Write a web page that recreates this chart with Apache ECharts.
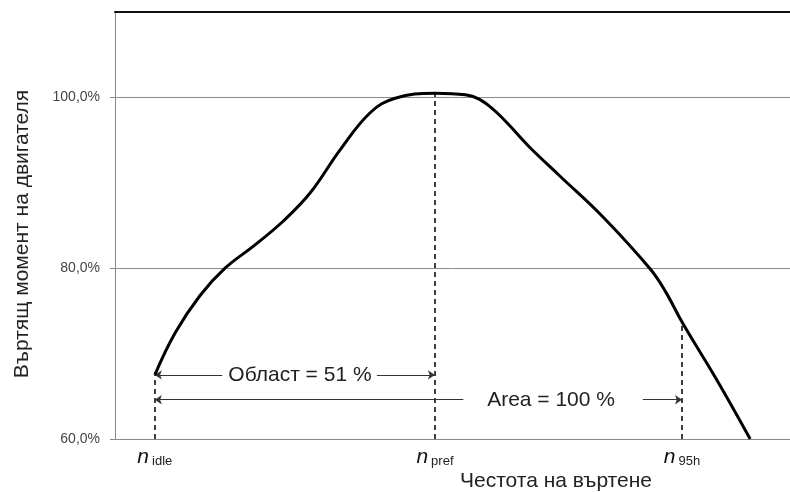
<!DOCTYPE html>
<html>
<head>
<meta charset="utf-8">
<script src="https://cdn.jsdelivr.net/npm/echarts@6/dist/echarts.min.js"></script>
<style>
  html, body { margin: 0; padding: 0; background: #fff; }
  #chart { width: 790px; height: 492px; }
</style>
</head>
<body>
<div id="chart"></div>
<script>
// Engine speed (relative units) and full-load torque (% of reference torque)
const speed  = [5.9, 8.9, 12.6, 16.3, 20.7, 24.9, 28.9, 33.3, 37.8, 41.5, 47.4, 51.9, 55.6, 61.5, 65.9, 72.3, 79.3, 81.6, 84.0, 89.1, 94.1];
const torque = [67.5, 72.4, 76.8, 80.0, 82.7, 85.5, 88.8, 93.8, 98.2, 99.9, 100.5, 100.3, 98.9, 94.1, 90.8, 86.0, 79.9, 77.2, 73.7, 67.0, 60.0];

// Characteristic speeds and their labels
const nIdle = 5.9, nPref = 47.4, n95h = 84.0;
const speedTicks = [nIdle, nPref, n95h];
const speedTickNames = ['idle', 'pref', '95h'];

// Torque axis ticks
const torqueTicks = [60, 80, 100];

// Curve torque at each characteristic speed
const torqueAtIdle = 67.5, torqueAtPref = 100.5, torqueAt95h = 73.7;

const FONT = '"Liberation Sans", Arial, Helvetica, sans-serif';
const GRID_GRAY = '#8a8a8a';

const chart = echarts.init(document.getElementById('chart'), null, { renderer: 'canvas' });

function speedLabel(v) {
  let best = 0;
  speedTicks.forEach((t, i) => { if (Math.abs(t - v) < Math.abs(speedTicks[best] - v)) best = i; });
  return '{n|n}{s|' + speedTickNames[best] + '}';
}

const option = {
  animation: false,
  backgroundColor: '#fff',
  grid: { left: 115, right: 0, top: 12, bottom: 53, containLabel: false },
  xAxis: [
    {
      type: 'value', min: 0, max: 100,
      axisLine: { show: true, lineStyle: { color: GRID_GRAY, width: 1 } },
      axisTick: { show: false },
      splitLine: { show: false },
      axisLabel: {
        customValues: speedTicks,
        formatter: speedLabel,
        margin: 8,
        rich: {
          n: { fontFamily: FONT, fontStyle: 'italic', fontSize: 21, color: '#111', lineHeight: 21, verticalAlign: 'bottom' },
          s: { fontFamily: FONT, fontSize: 13, color: '#222', lineHeight: 10, verticalAlign: 'bottom', padding: [0, 0, 0, 3] }
        }
      }
    },
    {
      type: 'value', min: 0, max: 100, position: 'top',
      axisLine: { show: true, lineStyle: { color: '#111', width: 2 } },
      axisTick: { show: false },
      axisLabel: { show: false },
      splitLine: { show: false }
    }
  ],
  yAxis: {
    type: 'value', min: 60, max: 110, interval: 20,
    axisLine: { show: true, lineStyle: { color: GRID_GRAY, width: 1 } },
    axisTick: { show: true, length: 5, customValues: torqueTicks, lineStyle: { color: GRID_GRAY } },
    axisLabel: {
      customValues: torqueTicks,
      formatter: v => v.toFixed(1).replace('.', ',') + '%',
      fontFamily: FONT, fontSize: 14, color: '#444', margin: 15
    },
    splitLine: { show: true, lineStyle: { color: GRID_GRAY, width: 1 } }
  },
  series: [
    {
      name: 'torque',
      type: 'line',
      data: speed.map((s, i) => [s, torque[i]]),
      smooth: 0.4,
      showSymbol: false,
      lineStyle: { color: '#000', width: 3 },
      z: 5
    },
    {
      // dashed drop lines at the characteristic speeds
      name: 'drops',
      type: 'line',
      data: [],
      markLine: {
        silent: true,
        symbol: ['none', 'none'],
        label: { show: false },
        lineStyle: { color: '#000', width: 1.5, type: [5, 4] },
        data: [
          [{ coord: [nIdle, 60] }, { coord: [nIdle, torqueAtIdle] }],
          [{ coord: [nPref, 60] }, { coord: [nPref, torqueAtPref] }],
          [{ coord: [n95h, 60] }, { coord: [n95h, torqueAt95h] }]
        ]
      }
    },
    {
      // span arrows with their captions
      name: 'spans',
      type: 'line',
      data: [],
      markLine: {
        silent: true,
        symbolSize: 7,
        label: { show: false },
        lineStyle: { color: '#333', width: 1, type: 'solid' },
        data: [
          [{ coord: [nIdle, 67.5], symbol: 'arrow' }, { coord: [15.9, 67.5], symbol: 'none' }],
          [{ coord: [38.8, 67.5], symbol: 'none' }, { coord: [nPref, 67.5], symbol: 'arrow' }],
          [{ coord: [nIdle, 64.6], symbol: 'arrow' }, { coord: [51.6, 64.6], symbol: 'none' }],
          [{ coord: [78.2, 64.6], symbol: 'none' }, { coord: [n95h, 64.6], symbol: 'arrow' }]
        ]
      },
      markPoint: {
        silent: true,
        symbol: 'rect',
        symbolSize: 0,
        itemStyle: { color: 'rgba(0,0,0,0)' },
        label: { show: true, position: 'inside', fontFamily: FONT, fontSize: 21, color: '#222' },
        data: [
          { coord: [27.4, 67.5], label: { formatter: 'Област = 51 %' } },
          { coord: [64.6, 64.6], label: { formatter: 'Area = 100 %' } }
        ]
      }
    }
  ],
  graphic: [
    {
      type: 'text',
      x: 22, y: 234,
      rotation: Math.PI / 2,
      style: {
        text: 'Въртящ момент на двигателя',
        font: '21px ' + FONT,
        fill: '#222',
        textAlign: 'center',
        textVerticalAlign: 'middle'
      }
    },
    {
      type: 'text',
      x: 556, y: 481,
      style: {
        text: 'Честота на въртене',
        font: '21px ' + FONT,
        fill: '#222',
        textAlign: 'center',
        textVerticalAlign: 'middle'
      }
    }
  ]
};

chart.setOption(option);
</script>
</body>
</html>
